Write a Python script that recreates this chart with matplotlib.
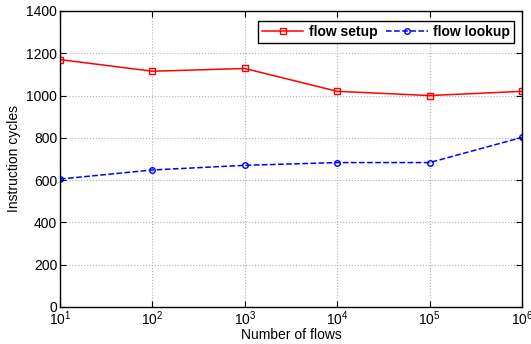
import matplotlib
matplotlib.use("Agg")
import matplotlib.pyplot as plt

plt.rcParams['font.family'] = ['Liberation Sans', 'DejaVu Sans']

# data
flows = [1e1, 1e2, 1e3, 1e4, 1e5, 1e6]
flow_setup = [1170, 1115, 1128, 1020, 1000, 1020]
flow_lookup = [605, 648, 670, 683, 683, 802]

fig = plt.figure(figsize=(5.31, 3.44), dpi=100)
ax = fig.add_axes([0.113, 0.1076, 0.870, 0.8605])

ax.plot(flows, flow_setup, color='red', linestyle='-', marker='s', markersize=4,
        markerfacecolor='none', markeredgewidth=1.0, linewidth=1.1, label='flow setup')
ax.plot(flows, flow_lookup, color='blue', linestyle='--', marker='o', markersize=4,
        markerfacecolor='none', markeredgewidth=1.0, linewidth=1.1, label='flow lookup')

ax.set_xscale('log')
ax.set_xlim(1e1, 1e6)
ax.set_ylim(0, 1400)
ax.set_yticks(range(0, 1401, 200))
ax.minorticks_off()
ax.grid(True, color='#b0b0b0', linestyle=':', linewidth=0.8)
ax.tick_params(direction='in', labelsize=10, length=4, top=True, right=True, pad=2)
ax.set_xlabel('Number of flows', fontsize=10, labelpad=0)
ax.set_ylabel('Instruction cycles', fontsize=10)
ax.yaxis.set_label_coords(-0.084, 0.5)

leg = ax.legend(loc='upper right', bbox_to_anchor=(0.983, 0.966), borderaxespad=0,
                ncol=2, prop={'weight': 'bold', 'size': 10},
                fancybox=False, edgecolor='black', framealpha=1,
                handlelength=3, columnspacing=0.6, handletextpad=0.4,
                borderpad=0.3)
leg.get_frame().set_linewidth(1.0)

for s in ax.spines.values():
    s.set_linewidth(1.0)

fig.savefig('out.png', dpi=100)
